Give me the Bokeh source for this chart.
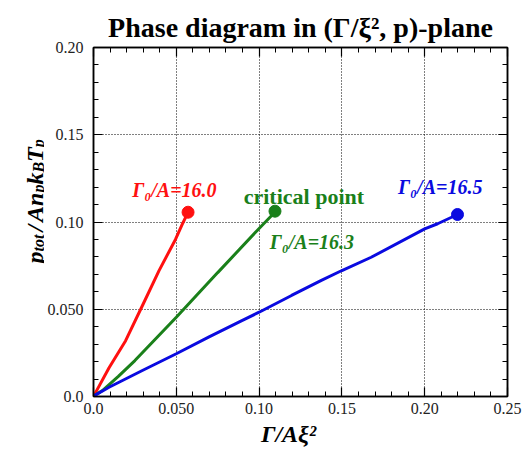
from bokeh.plotting import figure
from bokeh.models import (Range1d, FixedTicker, LinearAxis, Label, ColumnDataSource,
                          CustomLabelingPolicy)
from bokeh.layouts import row
from bokeh.embed import file_html
from bokeh.resources import INLINE
import math

# ---- data ----
red_x = [0.0005, 0.0014, 0.0094, 0.0194, 0.0295, 0.0395, 0.0495, 0.0535, 0.0571]
red_y = [0.0005, 0.0025, 0.0165, 0.0320, 0.0520, 0.0720, 0.0900, 0.0985, 0.1056]

green_x = [0.0005, 0.0054, 0.0150, 0.0250, 0.0500, 0.0750, 0.1000, 0.1076, 0.1096]
green_y = [0.0005, 0.0034, 0.0115, 0.0206, 0.0454, 0.0710, 0.0963, 0.1037, 0.1062]

blue_x = [0.0005, 0.0094, 0.0295, 0.0500, 0.0695, 0.0896, 0.1000, 0.1196, 0.1376,
          0.1500, 0.1677, 0.2000, 0.2078, 0.2198]
blue_y = [0.0005, 0.0053, 0.0149, 0.0245, 0.0340, 0.0435, 0.0483, 0.0579, 0.0665,
          0.0722, 0.0798, 0.0961, 0.0990, 0.1043]

x_ticks = [0.0, 0.05, 0.10, 0.15, 0.20, 0.25]
x_tick_labels = ["0.0", "0.050", "0.10", "0.15", "0.20", "0.25"]
y_ticks = [0.0, 0.05, 0.10, 0.15, 0.20]
y_tick_labels = ["0.0", "0.050", "0.10", "0.15", "0.20"]
x_minor = [round(i * 0.01, 2) for i in range(26)]
y_minor = [round(i * 0.01, 2) for i in range(21)]

title_text = "Phase diagram in (\u0393/\u03be\u00b2, p)-plane"
x_label_text = "\u0393/A\u03be\u00b2"
curve_labels = ["\u0393\u2080/A=16.0", "critical point", "\u0393\u2080/A=16.3", "\u0393\u2080/A=16.5"]
# y label: p_tot / A n_p k_B T_p  -> (text, is_subscript)
y_label_parts = [("p", False), ("tot", True), ("/", False), ("A", False), ("n", False),
                 ("p", True), ("k", False), ("B", True), ("T", False), ("p", True)]

SERIF = "Liberation Serif"
RED, GREEN, BLUE = "#ff1010", "#1a801a", "#0a0ae0"

# ---- page geometry (pixels) ----
W, H = 524, 452
FR_L, FR_R, FR_T, FR_B = 91, 507, 47, 396     # plot frame edges on the page
LEFT_W = 44                                    # y-label strip width

p = figure(width=W - LEFT_W, height=H, output_backend="svg", toolbar_location=None,
           x_range=Range1d(0, 0.25), y_range=Range1d(0, 0.20),
           min_border_left=FR_L - LEFT_W, min_border_right=W - FR_R,
           min_border_top=FR_T, min_border_bottom=H - FR_B)
p.background_fill_color = "white"
p.border_fill_color = "white"
p.outline_line_color = "black"
p.outline_line_width = 1.5

p.title.text = title_text
p.title.align = "center"
p.title.text_font = SERIF
p.title.text_font_size = "28px"
p.title.text_font_style = "bold"
p.title.text_color = "black"
p.title.standoff = 10

# grids
p.xgrid.ticker = FixedTicker(ticks=x_ticks[1:-1])
p.ygrid.ticker = FixedTicker(ticks=y_ticks[1:-1])
for g in (p.xgrid, p.ygrid):
    g.grid_line_color = "black"
    g.grid_line_dash = "1 2"
    g.grid_line_width = 1

HIDE_ALL = """
for (const i of indices)
    indices.unset(i)
return indices
"""


def style_axis(ax, ticks, minor, labels, show_labels=True):
    ax.ticker = FixedTicker(ticks=ticks, minor_ticks=minor)
    ax.axis_line_color = "black"
    ax.axis_line_width = 1.5
    ax.major_tick_in = 9
    ax.major_tick_out = 0
    ax.minor_tick_in = 5
    ax.minor_tick_out = 0
    ax.major_tick_line_color = "black"
    ax.minor_tick_line_color = "black"
    ax.major_tick_line_width = 1.2
    ax.minor_tick_line_width = 1
    if show_labels:
        ax.major_label_overrides = dict(zip(ticks, labels))
        ax.major_label_text_font = SERIF
        ax.major_label_text_font_size = "16px"
        ax.major_label_text_color = "#222222"
    else:
        # mirror axis: ticks only, labels neither drawn nor measured
        ax.major_label_policy = CustomLabelingPolicy(code=HIDE_ALL)
        ax.major_label_text_font_size = "0px"
        ax.major_label_standoff = 0


style_axis(p.xaxis[0], x_ticks, x_minor, x_tick_labels)
style_axis(p.yaxis[0], y_ticks, y_minor, y_tick_labels)
p.xaxis[0].major_label_standoff = 6
p.yaxis[0].major_label_standoff = 10
p.xaxis[0].axis_label = x_label_text + "\u2003"
p.xaxis[0].axis_label_text_font = SERIF
p.xaxis[0].axis_label_text_font_style = "bold italic"
p.xaxis[0].axis_label_text_font_size = "24px"
p.xaxis[0].axis_label_text_color = "black"
p.xaxis[0].axis_label_standoff = 4

top_ax = LinearAxis()
right_ax = LinearAxis()
style_axis(top_ax, x_ticks, x_minor, x_tick_labels, show_labels=False)
style_axis(right_ax, y_ticks, y_minor, y_tick_labels, show_labels=False)
p.add_layout(top_ax, "above")
p.add_layout(right_ax, "right")

# curves
for xs, ys, col in ((red_x, red_y, RED), (green_x, green_y, GREEN), (blue_x, blue_y, BLUE)):
    src = ColumnDataSource(dict(x=xs, y=ys))
    p.line("x", "y", source=src, line_color=col, line_width=3)
    p.scatter(x=[xs[-1]], y=[ys[-1]], size=12, marker="circle",
              fill_color=col, line_color=col)

# curve labels
lab_specs = [
    (0.0234, 0.1181, curve_labels[0], RED, "bold italic", "20px"),
    (0.0907, 0.1146, curve_labels[1], GREEN, "bold", "22px"),
    (0.1064, 0.0888, curve_labels[2], GREEN, "bold italic", "20px"),
    (0.1839, 0.1203, curve_labels[3], BLUE, "bold italic", "20px"),
]
for lx, ly, txt, col, style, size in lab_specs:
    p.add_layout(Label(x=lx, y=ly, text=txt, text_color=col, text_font=SERIF,
                       text_font_style=style, text_font_size=size,
                       text_baseline="alphabetic", text_align="left"))

# ---- y label strip (rotated, with subscripts); same vertical frame as the plot ----
yl = figure(width=LEFT_W, height=H, output_backend="svg", toolbar_location=None,
            x_range=Range1d(0, LEFT_W), y_range=Range1d(0, FR_B - FR_T),
            x_axis_type=None, y_axis_type=None,
            min_border_left=0, min_border_right=0,
            min_border_top=FR_T, min_border_bottom=H - FR_B)
yl.outline_line_color = None
yl.background_fill_color = "white"
yl.border_fill_color = "white"

MAIN_PX, SUB_PX = 24, 16
adv = {"p": 0.5, "t": 0.278, "o": 0.5, "/": 0.278, "A": 0.667, "n": 0.556,
       "k": 0.5, "B": 0.667, "T": 0.611}
pos = FR_B - 263.0
for txt, sub in y_label_parts:
    size = SUB_PX if sub else MAIN_PX
    pad = 3 if txt == "/" else 0
    pos += pad
    yl.add_layout(Label(x=38 if sub else 34, y=pos, text=txt, angle=math.pi / 2,
                        text_font=SERIF, text_font_style="bold italic",
                        text_font_size=f"{size}px", text_color="black",
                        text_align="left", text_baseline="alphabetic"))
    pos += sum(adv[c] for c in txt) * size + pad

layout = row(yl, p)
open("out.html", "w").write(file_html(layout, INLINE))
